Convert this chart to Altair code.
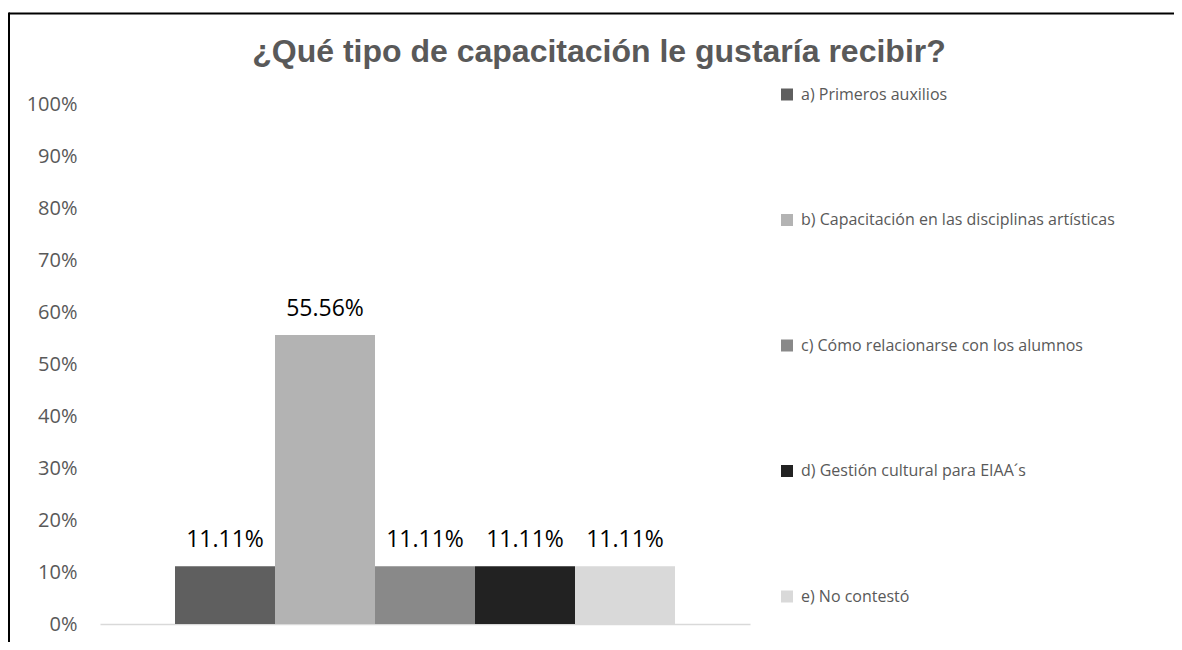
import altair as alt
import pandas as pd

categories = [
    "a) Primeros auxilios",
    "b) Capacitación en las disciplinas artísticas",
    "c) Cómo relacionarse con los alumnos",
    "d) Gestión cultural para EIAA´s",
    "e) No contestó",
]
values = [0.1111, 0.5556, 0.1111, 0.1111, 0.1111]
colors = ["#5f5f5f", "#b3b3b3", "#898989", "#222222", "#d9d9d9"]
y_ticks = [0, 0.1, 0.2, 0.3, 0.4, 0.5, 0.6, 0.7, 0.8, 0.9, 1.0]
title_text = "¿Qué tipo de capacitación le gustaría recibir?"

df = pd.DataFrame({"cat": categories, "val": values})

x_enc = alt.X(
    "cat:N",
    sort=categories,
    scale=alt.Scale(paddingInner=0, paddingOuter=0.75),
    axis=alt.Axis(labels=False, ticks=False, title=None, domainColor="#d9d9d9", domainWidth=1.5),
)
y_enc = alt.Y(
    "val:Q",
    scale=alt.Scale(domain=[0, 1], nice=False, zero=True),
    axis=alt.Axis(
        values=y_ticks, format=".0%", grid=False, ticks=False, domain=False, title=None,
        labelFont="Open Sans", labelFontSize=20, labelColor="#595959", labelPadding=23,
    ),
)

bars = alt.Chart(df).mark_bar(strokeWidth=0).encode(
    x=x_enc,
    y=y_enc,
    color=alt.Color(
        "cat:N",
        sort=categories,
        scale=alt.Scale(domain=categories, range=colors),
        legend=alt.Legend(
            title=None, orient="none", legendX=679, legendY=-17.5, padding=0,
            symbolType="square", symbolSize=144, symbolStrokeWidth=0,
            labelFont="Open Sans", labelFontSize=16, labelColor="#595959",
            labelOffset=6, rowPadding=109.5, labelLimit=500,
        ),
    ),
)

labels = alt.Chart(df).mark_text(
    font="Open Sans", fontSize=23, color="#000000", baseline="alphabetic", dy=-19
).encode(
    x=alt.X("cat:N", sort=categories),
    y="val:Q",
    text=alt.Text("val:Q", format=".2%"),
)

frame_data = alt.Data(values=[{}])
frame_top = alt.Chart(frame_data).mark_rule(color="#000000", strokeWidth=2).encode(
    x=alt.value(-91), x2=alt.value(1100), y=alt.value(-90.5)
)
frame_left = alt.Chart(frame_data).mark_rule(color="#000000", strokeWidth=2).encode(
    x=alt.value(-91), y=alt.value(-91.5), y2=alt.value(560)
)

chart = alt.layer(bars, labels, frame_top, frame_left).properties(
    width=650,
    height=520,
    autosize=alt.AutoSizeParams(type="none"),
    padding={"left": 92, "top": 96, "right": 424, "bottom": 18},
    title=alt.TitleParams(
        text=title_text, font="Liberation Sans", fontSize=32, fontWeight="bold",
        color="#595959", anchor="middle", dx=174, dy=57, offset=0,
    ),
).configure_view(stroke=None)

chart.save("out.html", embed_options={"renderer": "svg", "actions": False})
